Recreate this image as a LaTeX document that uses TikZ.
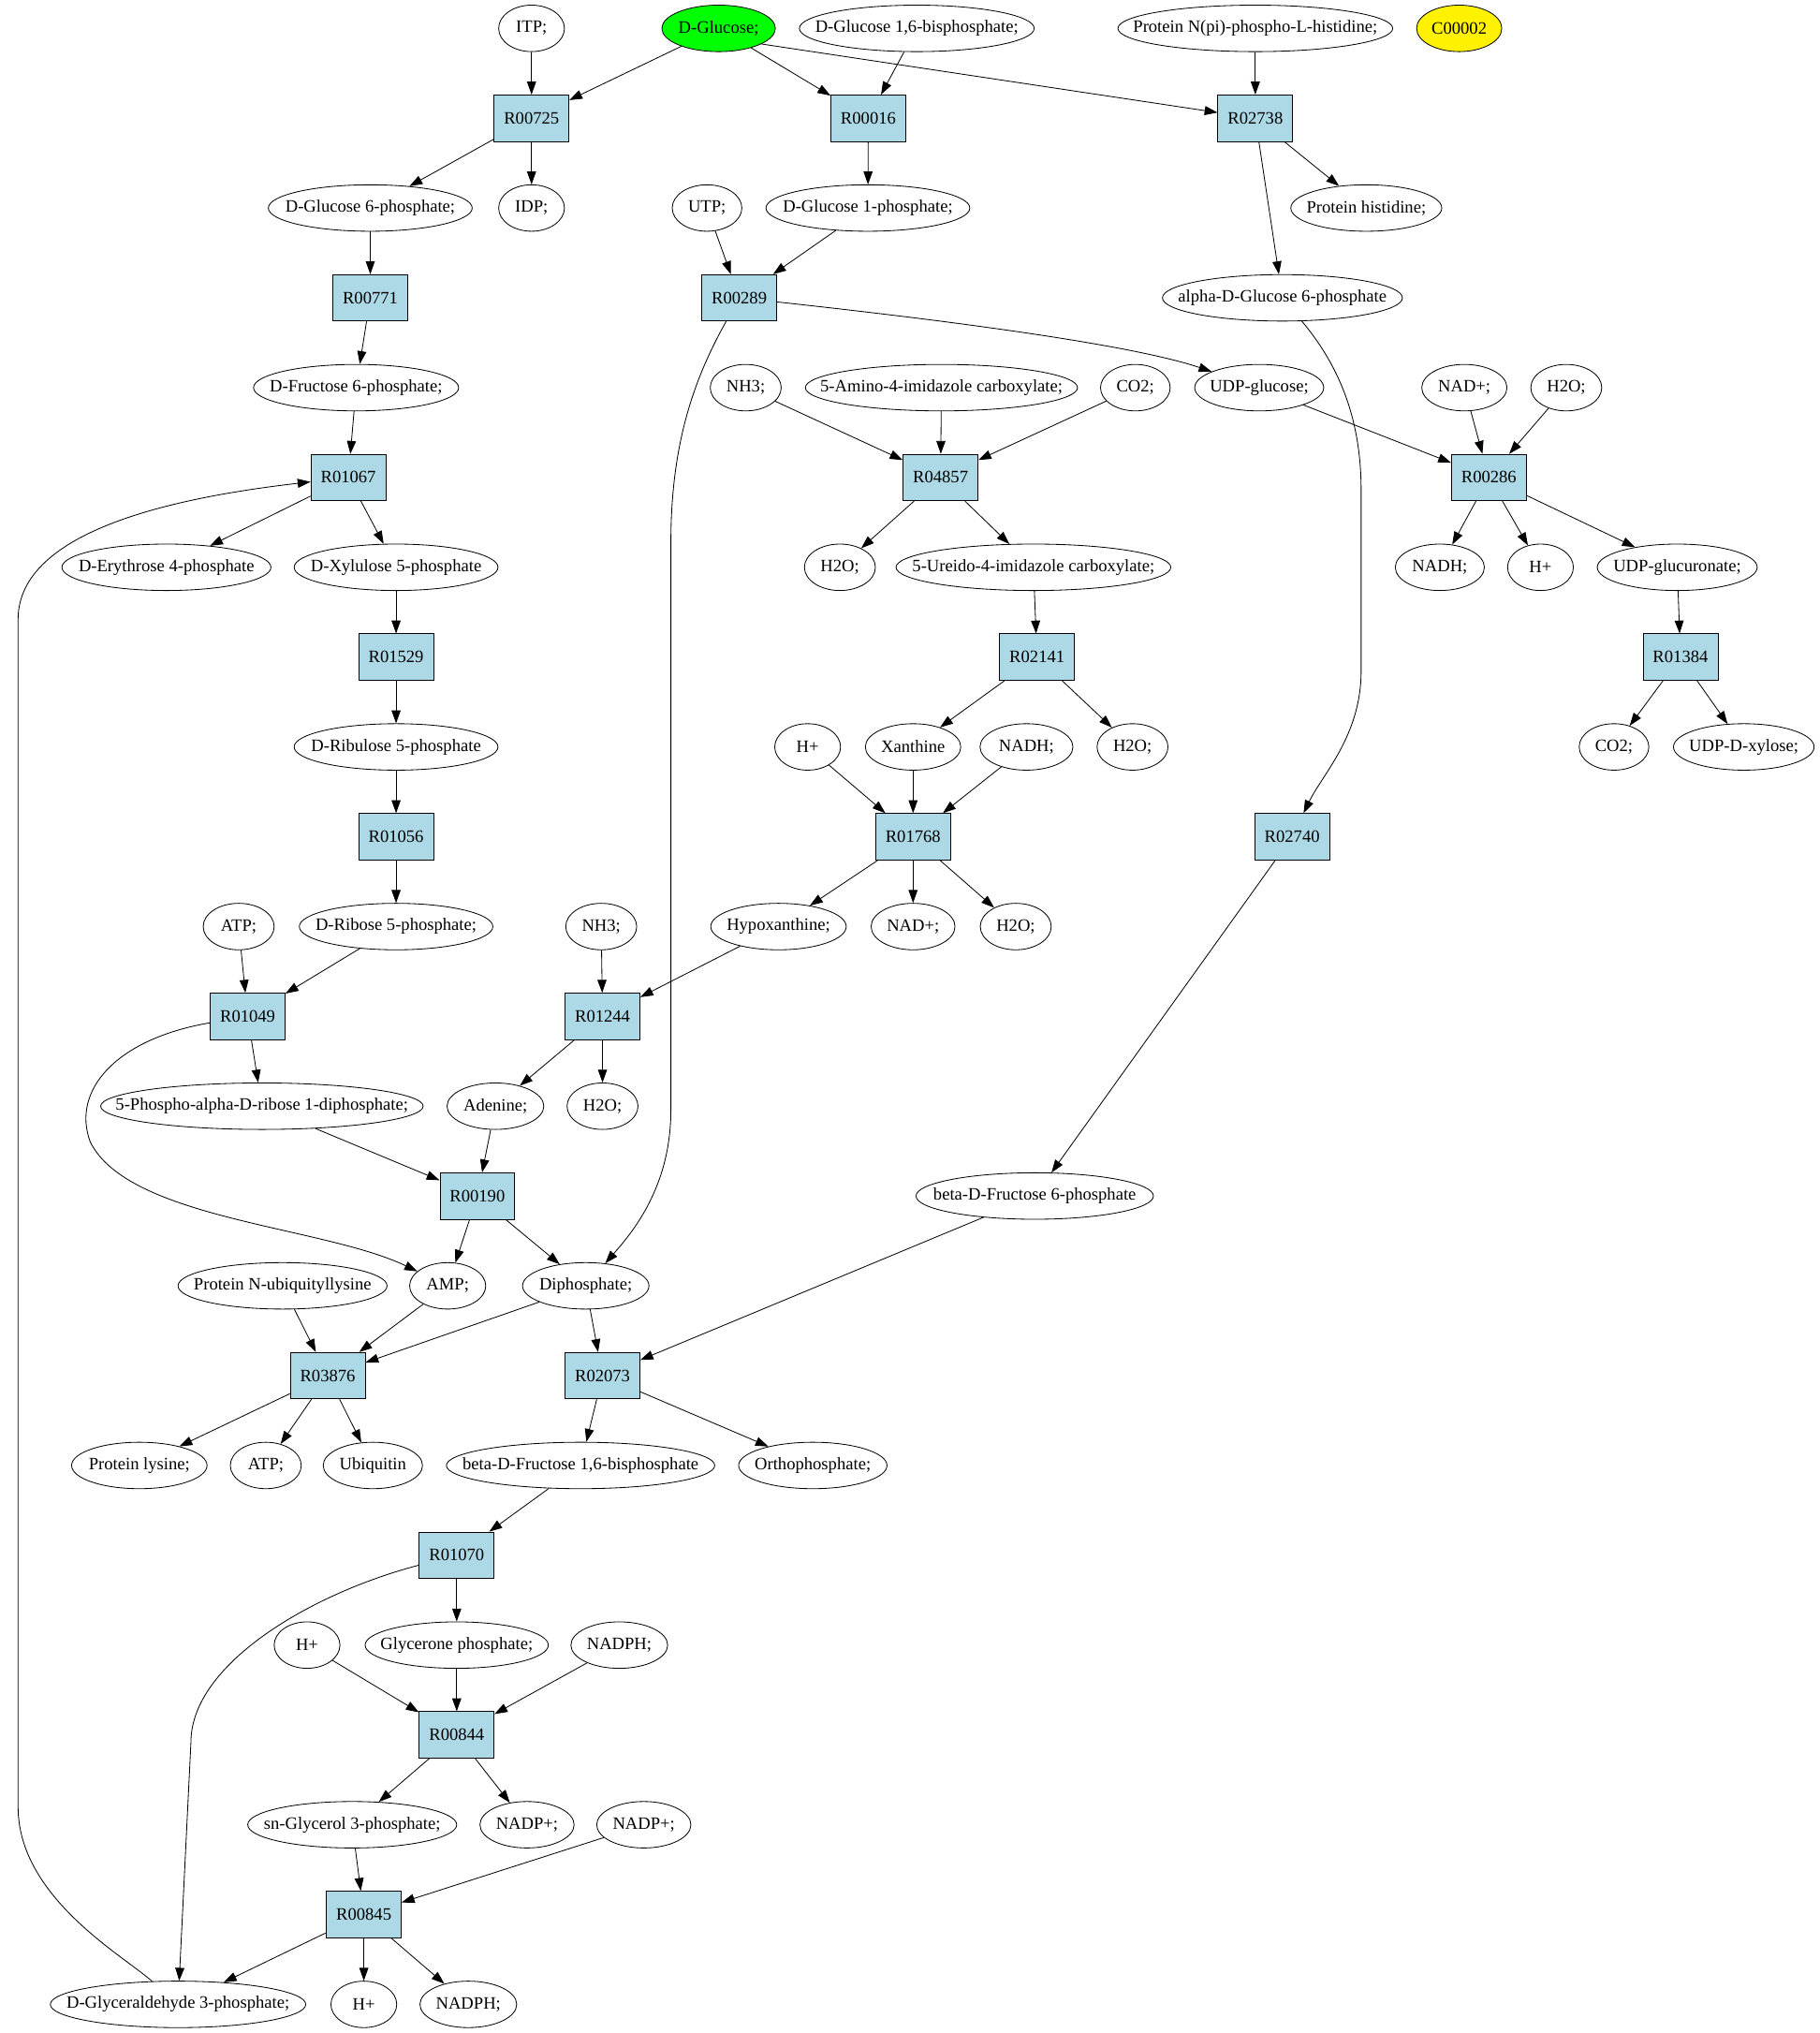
\documentclass[tikz,border=0pt]{standalone}
\usepackage{fontspec}
\setmainfont{Liberation Serif}
\usetikzlibrary{shapes.geometric,arrows.meta}
\definecolor{rxnblue}{RGB}{173,216,230}
\newcommand{\zw}[1]{\makebox[0pt]{#1}}
\begin{document}
\begin{tikzpicture}[x=1pt,y=-1pt,
  font=\fontsize{13.5}{16}\selectfont,
  met/.style={ellipse,draw,line width=0.6pt,minimum height=36pt,minimum width=#1,inner sep=0pt},
  rxn/.style={rectangle,draw,line width=0.6pt,fill=rxnblue,minimum width=58pt,minimum height=36pt,inner sep=0pt},
  arr/.style={-{Triangle[length=10pt,width=7pt]},line width=0.6pt}]
\useasboundingbox (0,0) rectangle (1410,1575.4);
% row 0
\node[met=51pt] (ITP) at (412,22) {\zw{ITP;}};
\node[met=88pt,fill=green] (DGlc) at (557,22) {\zw{D-Glucose;}};
\node[met=182pt] (DG16BP) at (710.6,22) {\zw{D-Glucose 1,6-bisphosphate;}};
\node[met=213pt] (PNpi) at (973,22) {\zw{Protein N(pi)-phospho-L-histidine;}};
\node[met=66pt,fill=yellow] (C2) at (1131,22) {\zw{C00002}};
% row 1
\node[rxn] (R00725) at (412,91.6) {R00725};
\node[rxn] (R00016) at (673,91.6) {R00016};
\node[rxn] (R02738) at (973,91.6) {R02738};
% row 2
\node[met=158pt] (DG6P) at (287,161.2) {\zw{D-Glucose 6-phosphate;}};
\node[met=51pt] (IDP) at (412,161.2) {\zw{IDP;}};
\node[met=54pt] (UTP) at (548,161.2) {\zw{UTP;}};
\node[met=158pt] (DG1P) at (672.7,161.2) {\zw{D-Glucose 1-phosphate;}};
\node[met=117pt] (PHis) at (1059,161.2) {\zw{Protein histidine;}};
% row 3
\node[rxn] (R00771) at (287,230.8) {R00771};
\node[rxn] (R00289) at (573,230.8) {R00289};
\node[met=186pt] (aG6P) at (994,230.8) {\zw{alpha-D-Glucose 6-phosphate}};
% row 4
\node[met=159pt] (DF6P) at (276,300.4) {\zw{D-Fructose 6-phosphate;}};
\node[met=55pt] (NH3a) at (578,300.4) {\zw{NH3;}};
\node[met=211pt] (AIC) at (729.7,300.4) {\zw{5-Amino-4-imidazole carboxylate;}};
\node[met=54pt] (CO2a) at (880,300.4) {\zw{CO2;}};
\node[met=100pt] (UDPG) at (976,300.4) {\zw{UDP-glucose;}};
\node[met=66pt] (NADa) at (1135,300.4) {\zw{NAD+;}};
\node[met=55pt] (H2Oa) at (1214,300.4) {\zw{H2O;}};
% row 5
\node[rxn] (R01067) at (270,370) {R01067};
\node[rxn] (R04857) at (729,370) {R04857};
\node[rxn] (R00286) at (1154,370) {R00286};
% row 6
\node[met=162pt] (DE4P) at (129,439.6) {\zw{D-Erythrose 4-phosphate}};
\node[met=158pt] (DX5P) at (307,439.6) {\zw{D-Xylulose 5-phosphate}};
\node[met=55pt] (H2Ob) at (651,439.6) {\zw{H2O;}};
\node[met=213pt] (UIC) at (801,439.6) {\zw{5-Ureido-4-imidazole carboxylate;}};
\node[met=69pt] (NADHa) at (1116,439.6) {\zw{NADH;}};
\node[met=51pt] (Ha) at (1194,439.6) {\zw{H+}};
\node[met=124pt] (UDPGA) at (1300,439.6) {\zw{UDP-glucuronate;}};
% row 7
\node[rxn] (R01529) at (307,509.2) {R01529};
\node[rxn] (R02141) at (803.8,509.2) {R02141};
\node[rxn] (R01384) at (1302.5,509.2) {R01384};
% row 8
\node[met=158pt] (DRu5P) at (307,578.8) {\zw{D-Ribulose 5-phosphate}};
\node[met=51pt] (Hb) at (626,578.8) {\zw{H+}};
\node[met=74pt] (Xan) at (707.7,578.8) {\zw{Xanthine}};
\node[met=72pt] (NADHb) at (795.6,578.8) {\zw{NADH;}};
\node[met=55pt] (H2Oc) at (877.8,578.8) {\zw{H2O;}};
\node[met=54pt] (CO2b) at (1251,578.8) {\zw{CO2;}};
\node[met=109pt] (UDPX) at (1351.6,578.8) {\zw{UDP-D-xylose;}};
% row 9
\node[rxn] (R01056) at (307,648.4) {R01056};
\node[rxn] (R01768) at (707.7,648.4) {R01768};
\node[rxn] (R02740) at (1001.5,648.4) {R02740};
% row 10
\node[met=55pt] (ATPa) at (185,718) {\zw{ATP;}};
\node[met=150pt] (DR5P) at (307,718) {\zw{D-Ribose 5-phosphate;}};
\node[met=55pt] (NH3b) at (466,718) {\zw{NH3;}};
\node[met=105pt] (HypX) at (603.4,718) {\zw{Hypoxanthine;}};
\node[met=65pt] (NADb) at (707.7,718) {\zw{NAD+;}};
\node[met=55pt] (H2Od) at (787.3,718) {\zw{H2O;}};
% row 11
\node[rxn] (R01049) at (192,787.6) {R01049};
\node[rxn] (R01244) at (467,787.6) {R01244};
% row 12
\node[met=250pt] (PRPP) at (203,857.2) {\zw{5-Phospho-alpha-D-ribose 1-diphosphate;}};
\node[met=75pt] (Ade) at (384,857.2) {\zw{Adenine;}};
\node[met=55pt] (H2Oe) at (467,857.2) {\zw{H2O;}};
% row 13
\node[rxn] (R00190) at (370,926.8) {R00190};
\node[met=184pt] (bF6P) at (802,926.8) {\zw{beta-D-Fructose 6-phosphate}};
% row 14
\node[met=162pt] (PNUL) at (219,996.4) {\zw{Protein N-ubiquityllysine}};
\node[met=59pt] (AMP) at (347,996.4) {\zw{AMP;}};
\node[met=98pt] (PPi) at (454,996.4) {\zw{Diphosphate;}};
% row 15
\node[rxn] (R03876) at (254,1066) {R03876};
\node[rxn] (R02073) at (467,1066) {R02073};
% row 16
\node[met=105pt] (PLys) at (108,1135.6) {\zw{Protein lysine;}};
\node[met=55pt] (ATPb) at (206,1135.6) {\zw{ATP;}};
\node[met=77pt] (Ubq) at (289,1135.6) {\zw{Ubiquitin}};
\node[met=208pt] (bF16BP) at (450,1135.6) {\zw{beta-D-Fructose 1,6-bisphosphate}};
\node[met=115pt] (Pi) at (630,1135.6) {\zw{Orthophosphate;}};
% row 17
\node[rxn] (R01070) at (354,1205.2) {R01070};
% row 18
\node[met=51pt] (Hc) at (238,1274.8) {\zw{H+}};
\node[met=142pt] (GlyP) at (354,1274.8) {\zw{Glycerone phosphate;}};
\node[met=75pt] (NADPHa) at (480,1274.8) {\zw{NADPH;}};
% row 19
\node[rxn] (R00844) at (354,1344.4) {R00844};
% row 20
\node[met=162pt] (snG3P) at (273,1414) {\zw{sn-Glycerol 3-phosphate;}};
\node[met=73pt] (NADPa) at (408.5,1414) {\zw{NADP+;}};
\node[met=73pt] (NADPb) at (499,1414) {\zw{NADP+;}};
% row 21
\node[rxn] (R00845) at (282,1483.6) {R00845};
% row 22
\node[met=198pt] (DGA3P) at (138,1553.2) {\zw{D-Glyceraldehyde 3-phosphate;}};
\node[met=51pt] (Hd) at (282,1553.2) {\zw{H+}};
\node[met=75pt] (NADPHb) at (363,1553.2) {\zw{NADPH;}};

% edges
\draw[arr] (ITP) -- (R00725);
\draw[arr] (DGlc) -- (R00725);
\draw[arr] (DGlc) -- (R00016);
\draw[arr] (DGlc.-20) -- (R02738);
\draw[arr] (DG16BP) -- (R00016);
\draw[arr] (PNpi) -- (R02738);
\draw[arr] (R00725) -- (DG6P);
\draw[arr] (R00725) -- (IDP);
\draw[arr] (R00016) -- (DG1P);
\draw[arr] (R02738) -- (PHis);
\draw[arr] (R02738) -- (aG6P);
\draw[arr] (DG6P) -- (R00771);
\draw[arr] (UTP) -- (R00289);
\draw[arr] (DG1P) -- (R00289);
\draw[arr] (R00771) -- (DF6P);
\draw[arr] (R00289) .. controls (750,250) and (880,268) .. (UDPG);
\draw[arr] (R00289) .. controls (540,290) and (520,340) .. (520,420) -- (520,860) .. controls (520,920) and (490,955) .. (PPi);
\draw[arr] (aG6P) .. controls (1035,280) and (1055,320) .. (1055,380) -- (1055,520) .. controls (1055,570) and (1025,600) .. (R02740);
\draw[arr] (DF6P) -- (R01067);
\draw[arr] (NH3a) -- (R04857);
\draw[arr] (AIC) -- (R04857);
\draw[arr] (CO2a) -- (R04857);
\draw[arr] (UDPG) -- (R00286);
\draw[arr] (NADa) -- (R00286);
\draw[arr] (H2Oa) -- (R00286);
\draw[arr] (R01067) -- (DE4P);
\draw[arr] (R01067) -- (DX5P);
\draw[arr] (DGA3P) .. controls (95,1515) and (14,1470) .. (14,1400) -- (14,480) .. controls (14,410) and (140,385) .. (R01067);
\draw[arr] (R04857) -- (H2Ob);
\draw[arr] (R04857) -- (UIC);
\draw[arr] (R00286) -- (NADHa);
\draw[arr] (R00286) -- (Ha);
\draw[arr] (R00286) -- (UDPGA);
\draw[arr] (DX5P) -- (R01529);
\draw[arr] (UIC) -- (R02141);
\draw[arr] (UDPGA) -- (R01384);
\draw[arr] (R01529) -- (DRu5P);
\draw[arr] (R02141) -- (Xan);
\draw[arr] (R02141) -- (H2Oc);
\draw[arr] (R01384) -- (CO2b);
\draw[arr] (R01384) -- (UDPX);
\draw[arr] (DRu5P) -- (R01056);
\draw[arr] (Hb) -- (R01768);
\draw[arr] (Xan) -- (R01768);
\draw[arr] (NADHb) -- (R01768);
\draw[arr] (R01056) -- (DR5P);
\draw[arr] (R01768) -- (HypX);
\draw[arr] (R01768) -- (NADb);
\draw[arr] (R01768) -- (H2Od);
\draw[arr] (R02740) -- (bF6P);
\draw[arr] (ATPa) -- (R01049);
\draw[arr] (DR5P) -- (R01049);
\draw[arr] (NH3b) -- (R01244);
\draw[arr] (HypX) -- (R01244);
\draw[arr] (R01049) -- (PRPP);
\draw[arr] (R01049) .. controls (90,805) and (55,845) .. (70,885) .. controls (100,945) and (250,950) .. (AMP);
\draw[arr] (R01244) -- (Ade);
\draw[arr] (R01244) -- (H2Oe);
\draw[arr] (PRPP) -- (R00190);
\draw[arr] (Ade) -- (R00190);
\draw[arr] (R00190) -- (AMP);
\draw[arr] (R00190) -- (PPi);
\draw[arr] (bF6P) -- (R02073);
\draw[arr] (PNUL) -- (R03876);
\draw[arr] (AMP) -- (R03876);
\draw[arr] (PPi) -- (R03876);
\draw[arr] (PPi) -- (R02073);
\draw[arr] (R03876) -- (PLys);
\draw[arr] (R03876) -- (ATPb);
\draw[arr] (R03876) -- (Ubq);
\draw[arr] (R02073) -- (bF16BP);
\draw[arr] (R02073) -- (Pi);
\draw[arr] (bF16BP) -- (R01070);
\draw[arr] (R01070) -- (GlyP);
\draw[arr] (R01070) .. controls (240,1235) and (148,1290) .. (148,1350) -- (DGA3P);
\draw[arr] (Hc) -- (R00844);
\draw[arr] (GlyP) -- (R00844);
\draw[arr] (NADPHa) -- (R00844);
\draw[arr] (R00844) -- (snG3P);
\draw[arr] (R00844) -- (NADPa);
\draw[arr] (snG3P) -- (R00845);
\draw[arr] (NADPb) -- (R00845);
\draw[arr] (R00845) -- (DGA3P);
\draw[arr] (R00845) -- (Hd);
\draw[arr] (R00845) -- (NADPHb);
\end{tikzpicture}
\end{document}
